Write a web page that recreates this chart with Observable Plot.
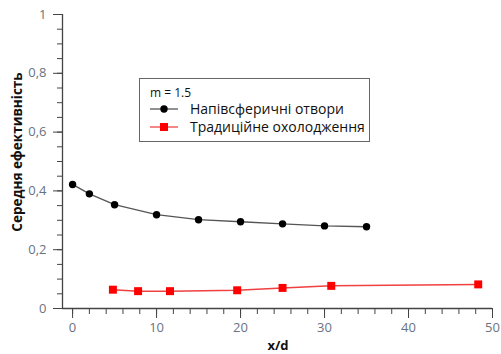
<!DOCTYPE html>
<html>
<head>
<meta charset="utf-8">
<script src="https://cdn.jsdelivr.net/npm/d3@7"></script>
<script src="https://cdn.jsdelivr.net/npm/@observablehq/plot@0.6"></script>
<style>
  body { margin: 0; background: #fff; }
  #wrap { position: relative; width: 501px; height: 354px; font-family: "Open Sans", sans-serif; }
  #wrap svg { position: absolute; left: 0; top: 0; }
  .lbl { position: absolute; font-weight: bold; color: #111; white-space: nowrap; }
  #legend { position: absolute; left: 139px; top: 78px; width: 229px; height: 62px; border: 1px solid #666; background: #fff; font-size: 14px; color: #111; }
  #legend .item { position: absolute; white-space: nowrap; }
</style>
</head>
<body>
<div id="wrap"></div>
<script>
// Data
const xHemi = [0, 2, 5, 10, 15, 20, 25, 30, 35];
const yHemi = [0.422, 0.39, 0.353, 0.319, 0.302, 0.295, 0.288, 0.281, 0.278];
const xTrad = [4.8, 7.8, 11.6, 19.6, 25, 30.8, 48.3];
const yTrad = [0.064, 0.059, 0.059, 0.062, 0.07, 0.077, 0.082];
const xMajor = [0, 10, 20, 30, 40, 50];
const xMinor = d3.range(0, 51, 2);
const yMajor = [0, 0.2, 0.4, 0.6, 0.8, 1];
const yMinor = d3.range(0, 21).map(i => i * 0.05);
const seriesNames = ["Напівсферичні отвори", "Традиційне охолодження"];
const legendTitle = "m = 1.5";
const xTitle = "x/d";
const yTitle = "Середня ефективність";

const hemi = xHemi.map((x, i) => ({x, y: yHemi[i]}));
const trad = xTrad.map((x, i) => ({x, y: yTrad[i]}));
const xMin = -1.2;
const fmt = d => String(d).replace(".", ",");

const chart = Plot.plot({
  width: 501, height: 354,
  marginLeft: 62, marginRight: 9, marginTop: 14, marginBottom: 46,
  x: {domain: [xMin, 50]},
  y: {domain: [0, 1]},
  style: {fontFamily: "Open Sans, sans-serif", fontSize: "13px", background: "#fff"},
  marks: [
    Plot.axisX({ticks: xMinor, tickSize: 6, tickFormat: () => "", stroke: "#444", label: null}),
    Plot.axisX({ticks: xMajor, tickSize: 10, tickPadding: 4, stroke: "#444", fill: "#6a7280", label: null}),
    Plot.axisY({ticks: yMinor, tickSize: 5, tickFormat: () => "", stroke: "#444", label: null}),
    Plot.axisY({ticks: yMajor, tickSize: 9, tickPadding: 7, tickFormat: fmt, stroke: "#444", fill: "#6a7280", label: null}),
    Plot.ruleY([0], {stroke: "#444", strokeWidth: 1.3}),
    Plot.ruleX([xMin], {y1: 0, y2: 1, stroke: "#444", strokeWidth: 1.3}),
    Plot.line(hemi, {x: "x", y: "y", stroke: "#555", strokeWidth: 1.3}),
    Plot.dot(hemi, {x: "x", y: "y", r: 3.7, fill: "#000", stroke: "none"}),
    Plot.line(trad, {x: "x", y: "y", stroke: "#f04040", strokeWidth: 1.5}),
    Plot.dot(trad, {x: "x", y: "y", symbol: "square", r: 4.5, fill: "#ff0000", stroke: "none"})
  ]
});

const wrap = document.getElementById("wrap");
wrap.appendChild(chart);

const xl = document.createElement("div");
xl.className = "lbl";
xl.textContent = xTitle;
xl.style.cssText = "left:278px;top:336px;font-size:13px;transform:translateX(-50%);";
wrap.appendChild(xl);

const yl = document.createElement("div");
yl.className = "lbl";
yl.textContent = yTitle;
yl.style.cssText = "left:17px;top:152px;font-size:13.5px;transform:translate(-50%,-50%) rotate(-90deg);";
wrap.appendChild(yl);

const leg = document.createElement("div");
leg.id = "legend";
leg.innerHTML = `
  <div class="item" style="left:10px;top:5px;font-size:12px;">${legendTitle}</div>
  <svg class="item" style="left:9px;top:24px;" width="30" height="12"><line x1="1" y1="6" x2="29" y2="6" stroke="#555" stroke-width="1.3"/><circle cx="15" cy="6" r="3.7" fill="#000"/></svg>
  <div class="item" style="left:50px;top:20px;">${seriesNames[0]}</div>
  <svg class="item" style="left:9px;top:42px;" width="30" height="12"><line x1="1" y1="6" x2="29" y2="6" stroke="#f06060" stroke-width="1.5"/><rect x="11" y="2" width="8" height="8" fill="#ff0000"/></svg>
  <div class="item" style="left:50px;top:38px;">${seriesNames[1]}</div>`;
wrap.appendChild(leg);
</script>
</body>
</html>
